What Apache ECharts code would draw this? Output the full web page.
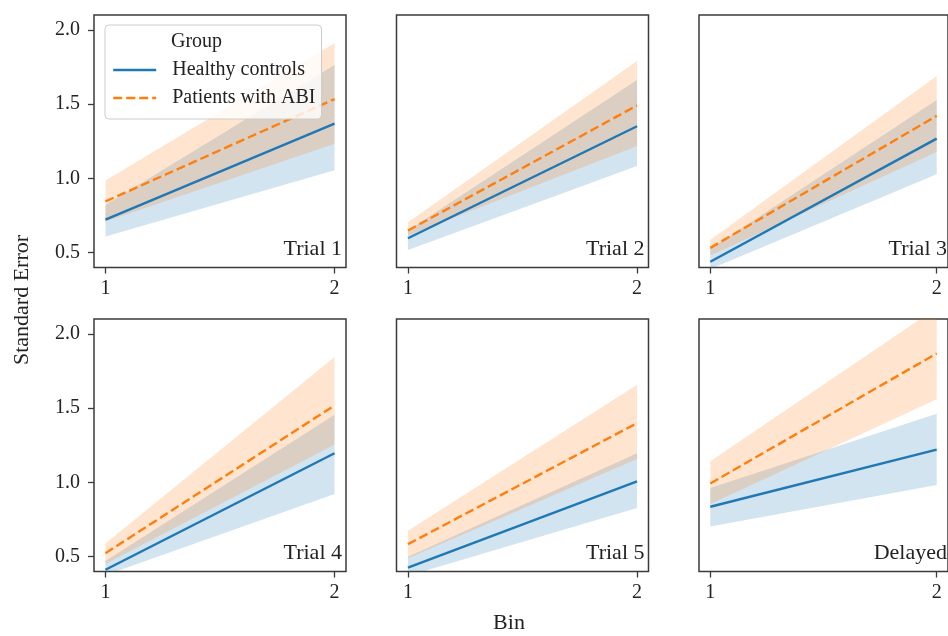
<!DOCTYPE html>
<html>
<head>
<meta charset="utf-8">
<script src="https://cdn.jsdelivr.net/npm/echarts@6/dist/echarts.min.js"></script>
<style>html,body{margin:0;padding:0;background:#fff}#c{width:948px;height:636px}</style>
</head>
<body>
<div id="c"></div>
<script>
// ---- data ----
const bins = [1, 2];
const panels = ['Trial 1', 'Trial 2', 'Trial 3', 'Trial 4', 'Trial 5', 'Delayed'];
const yTicks = [0.5, 1.0, 1.5, 2.0];
const groups = ['Healthy controls', 'Patients with ABI'];
// per panel: [value at bin 1, value at bin 2]
const hcMean  = [[0.723, 1.369], [0.597, 1.351], [0.439, 1.268], [0.412, 1.196], [0.426, 1.007], [0.836, 1.221]];
const hcLow   = [[0.608, 1.054], [0.518, 1.083], [0.390, 1.027], [0.375, 0.922], [0.371, 0.827], [0.703, 0.982]];
const hcHigh  = [[0.820, 1.764], [0.649, 1.662], [0.527, 1.527], [0.470, 1.455], [0.500, 1.196], [0.962, 1.462]];
const abiMean = [[0.845, 1.534], [0.649, 1.491], [0.532, 1.421], [0.523, 1.518], [0.584, 1.399], [0.993, 1.868]];
const abiLow  = [[0.710, 1.234], [0.615, 1.218], [0.480, 1.178], [0.450, 1.255], [0.490, 1.158], [0.854, 1.559]];
const abiHigh = [[0.986, 1.910], [0.705, 1.790], [0.586, 1.689], [0.588, 1.845], [0.674, 1.658], [1.142, 2.175]];

// ---- layout ----
const colLeft = [94, 396.5, 699];
const colW = 252;
const rowTop = [15, 319];
const rowH = 252.5;
const FONT = '"Liberation Serif", "DejaVu Serif", serif';
const FRAME = '#3a3a3a';
const BLUE = '#1f77b4', ORANGE = '#ff7f0e';

const grids = [], xAxes = [], yAxes = [], series = [], graphics = [];
const pts = (arr) => bins.map((b, k) => [b, arr[k]]);
// band rows: [bin, low, high]
const bandRows = (lo, hi) => bins.map((b, k) => [b, lo[k], hi[k]]);

function bandSeries(i, lo, hi, fill) {
  return {
    type: 'custom', xAxisIndex: i, yAxisIndex: i, silent: true, animation: false, z: 2,
    data: bandRows(lo, hi),
    renderItem: function (params, api) {
      if (params.dataIndex !== 0) return null;
      const upper = [], lower = [];
      bandRows(lo, hi).forEach(r => { upper.push(api.coord([r[0], r[2]])); lower.push(api.coord([r[0], r[1]])); });
      const points = upper.concat(lower.reverse());
      const cs = params.coordSys;
      return {
        type: 'polygon', shape: {points: points}, style: {fill: fill, stroke: null},
        clipPath: {type: 'rect', shape: {x: cs.x, y: cs.y, width: cs.width, height: cs.height}}
      };
    }
  };
}

panels.forEach((name, i) => {
  const col = i % 3, row = Math.floor(i / 3);
  grids.push({left: colLeft[col], top: rowTop[row], width: colW, height: rowH,
    show: true, borderColor: FRAME, borderWidth: 1.5, backgroundColor: 'transparent', containLabel: false});
  xAxes.push({type: 'value', gridIndex: i, min: 0.95, max: 2.05,
    axisLine: {show: false}, splitLine: {show: false},
    axisTick: {show: true, customValues: bins, length: 6, lineStyle: {color: FRAME, width: 1.3}},
    axisLabel: {show: true, customValues: bins, margin: 11, fontSize: 20, fontFamily: FONT, color: '#222'}});
  yAxes.push({type: 'value', gridIndex: i, min: 0.4, max: 2.1,
    axisLine: {show: false}, splitLine: {show: false},
    axisTick: {show: col === 0, customValues: yTicks, length: 6, lineStyle: {color: FRAME, width: 1.3}},
    axisLabel: {show: col === 0, customValues: yTicks, margin: 14, fontSize: 20, fontFamily: FONT, color: '#222',
      formatter: v => v.toFixed(1)}});

  series.push(bandSeries(i, hcLow[i], hcHigh[i], 'rgba(31,119,180,0.2)'));
  series.push(bandSeries(i, abiLow[i], abiHigh[i], 'rgba(255,127,14,0.2)'));

  const base = {type: 'line', xAxisIndex: i, yAxisIndex: i, symbol: 'none', showSymbol: false, silent: true, animation: false, z: 3};
  series.push(Object.assign({}, base, {name: groups[0], data: pts(hcMean[i]),
    itemStyle: {color: BLUE}, lineStyle: {color: BLUE, width: 2.4}}));
  series.push(Object.assign({}, base, {name: groups[1], data: pts(abiMean[i]),
    itemStyle: {color: ORANGE}, lineStyle: {color: ORANGE, width: 2.4, type: [9, 4]}}));

  graphics.push({type: 'text', z: 10, x: colLeft[col] + colW - 4, y: rowTop[row] + rowH - 7,
    style: {text: name, font: '22px ' + FONT, fill: '#222', textAlign: 'right', textVerticalAlign: 'bottom'}});
});

graphics.push({type: 'text', z: 10, x: 171, y: 42,
  style: {text: 'Group', font: '20px ' + FONT, fill: '#222', textAlign: 'left', textVerticalAlign: 'middle'}});
graphics.push({type: 'text', z: 10, x: 22, y: 300, rotation: Math.PI / 2,
  style: {text: 'Standard Error', font: '22px ' + FONT, fill: '#222', textAlign: 'center', textVerticalAlign: 'middle'}});
graphics.push({type: 'text', z: 10, x: 509, y: 623,
  style: {text: 'Bin', font: '22px ' + FONT, fill: '#222', textAlign: 'center', textVerticalAlign: 'middle'}});

const chart = echarts.init(document.getElementById('c'), null, {renderer: 'canvas'});
chart.setOption({
  animation: false,
  backgroundColor: '#fff',
  grid: grids,
  xAxis: xAxes,
  yAxis: yAxes,
  legend: {
    data: groups, orient: 'vertical', left: 105, top: 25,
    padding: [35, 6, 11, 7], itemGap: 8, itemWidth: 43, itemHeight: 2,
    backgroundColor: 'rgba(255,255,255,0.8)', borderColor: '#cccccc', borderWidth: 1, borderRadius: 4,
    selectedMode: false,
    lineStyle: {width: 2.4},
    textStyle: {fontSize: 20, fontFamily: FONT, color: '#222', lineHeight: 20, padding: [0, 0, 0, 11]}
  },
  series: series,
  graphic: graphics
});
</script>
</body>
</html>
